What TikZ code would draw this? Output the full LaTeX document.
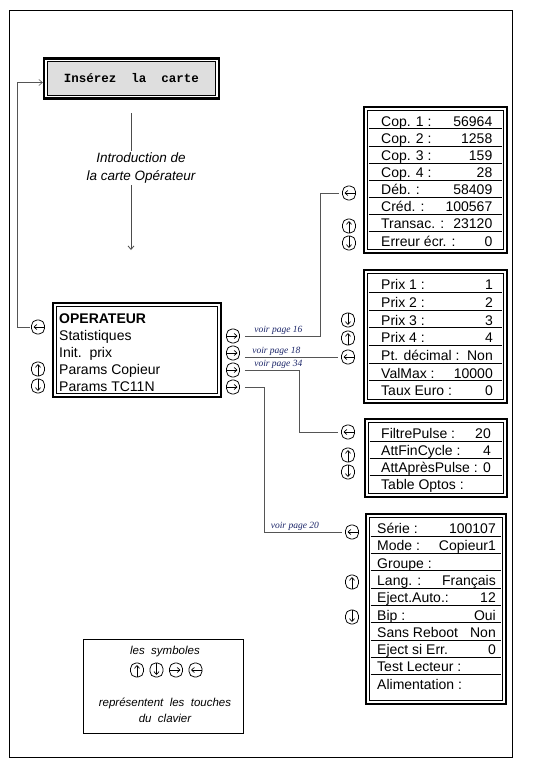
\documentclass[tikz,border=0pt]{standalone}
\usepackage{fontspec}
\setmainfont{Liberation Sans}
\newfontfamily\pagefont{Liberation Serif}
\newfontfamily\screenfont{Liberation Mono}
\usetikzlibrary{arrows.meta}
\definecolor{pageblue}{RGB}{28,38,105}
\definecolor{linkgray}{RGB}{85,85,85}

\tikzset{
  boxframe/.style={draw, line width=2.4pt, inner sep=0pt},
  innerline/.style={draw, line width=0.7pt},
  rowsep/.style={draw, line width=0.6pt},
  rowlabel/.style={anchor=base west, inner sep=0pt, font=\fontsize{14}{16}\selectfont},
  rowvalue/.style={anchor=base east, inner sep=0pt, font=\fontsize{14}{16}\selectfont},
  keybox/.style={draw, line width=0.75pt, rounded corners=5.5pt, minimum width=13pt, minimum height=14pt, inner sep=0pt},
  keyarrow/.style={line width=0.7pt, -{Straight Barb[length=2.8pt,width=5pt,line width=0.7pt]}},
  keyup/.style={keybox, path picture={\draw[keyarrow] (path picture bounding box.south) -- ([yshift=-2pt]path picture bounding box.north);}},
  keydown/.style={keybox, path picture={\draw[keyarrow] (path picture bounding box.north) -- ([yshift=2pt]path picture bounding box.south);}},
  keyright/.style={keybox, path picture={\draw[keyarrow] (path picture bounding box.west) -- ([xshift=-2pt]path picture bounding box.east);}},
  keyleft/.style={keybox, path picture={\draw[keyarrow] (path picture bounding box.east) -- ([xshift=2pt]path picture bounding box.west);}},
  link/.style={draw=linkgray, line width=0.6pt, shorten <=5pt, shorten >=3pt},
  pagelabel/.style={above, inner sep=1.5pt, text=pageblue, font=\pagefont\itshape\fontsize{9.5}{11}\selectfont},
  endtip/.style={-{Straight Barb[length=3.5pt,width=6pt]}},
  legendtext/.style={font=\itshape\fontsize{11.5}{16}\selectfont, inner sep=0pt}
}

\begin{document}
\begin{tikzpicture}[x=1pt, y=-1pt]
\useasboundingbox (0,0) rectangle (546,766);
% cadre de la page
\draw[line width=0.8pt] (9,10) rectangle (512,757);

% Insérez la carte
\node[boxframe, minimum width=175pt, minimum height=40pt] (insert) at (131.5,78.5) {};
\draw[innerline, fill=black!13] ([shift={(4.5pt,-4.5pt)}]insert.north west) rectangle ([shift={(-4.5pt,4.5pt)}]insert.south east);
\node[font=\screenfont\bfseries\fontsize{12.5}{14}\selectfont] (inserttext) at (insert.center) {Insérez\ \ la\ \ carte};

% Introduction de la carte
\coordinate (introtop) at (131,113);
\coordinate (introend) at (131,250);
\node[font=\itshape\fontsize{13.5}{18}\selectfont, align=center, inner sep=2pt] (intro) at (141,168) {Introduction de\\la carte Opérateur};
\draw[draw=black!70, line width=0.8pt] (introtop) -- (introtop |- intro.north);
\draw[draw=black!70, line width=0.8pt, endtip] (introtop |- intro.south) -- (introend);

% menu OPERATEUR
\node[boxframe, minimum width=167.6pt, minimum height=94pt] (opbox) at (137,350) {};
\draw[innerline] ([shift={(4.5pt,-4.5pt)}]opbox.north west) rectangle ([shift={(-4.5pt,4.5pt)}]opbox.south east);
\node[anchor=base west, inner sep=0pt, font=\bfseries\fontsize{14}{16}\selectfont] (optitle) at (59,323) {OPERATEUR};
\foreach \entry [count=\i] in {Statistiques, Init.\ \ prix, Params Copieur, Params TC11N}
  \node[anchor=base west, inner sep=0pt, font=\fontsize{14}{16}\selectfont] (op\i) at (59,323+17*\i) {\entry};

\node[keyleft] (opleft) at (38,327) {};
\node[keyup] (opup) at (38,369) {};
\node[keydown] (opdown) at (38,386) {};
\foreach \y [count=\i] in {336,353,370,387}
  \node[keyright] (opnext\i) at (233,\y) {};

% retour vers Insérez la carte
\coordinate (backx) at (17,0);
\draw[link, shorten <=1pt, shorten >=0pt, endtip] (opleft.west) -- (opleft.west -| backx) |- ([yshift=-4pt]insert.west);

% Statistiques
\node[boxframe, minimum width=142.6pt, minimum height=145.6pt] (cptbox) at (435.5,180) {};
\draw[innerline] ([shift={(4.5pt,-4.5pt)}]cptbox.north west) rectangle ([shift={(-4.5pt,4.5pt)}]cptbox.south east);
\foreach \i in {1,...,7}
  \draw[rowsep] (368.7,111.7+17.08*\i) -- (502.3,111.7+17.08*\i);
\foreach \lab/\val [count=\i] in {Cop. 1 :/56964, Cop. 2 :/1258, Cop. 3 :/159, Cop. 4 :/28, Déb. :/58409, Créd. :/100567, Transac. :/23120, Erreur écr. :/0}{
  \node[rowlabel] (cpt\i) at (381,109.4+17.08*\i) {\lab};
  \node[rowvalue] (cptv\i) at (492.5,109.4+17.08*\i) {\val};
}
\node[keyleft] (cptleft) at (349,193) {};
\node[keyup] (cptup) at (349,226) {};
\node[keydown] (cptdown) at (349,243) {};

% Init. prix
\node[boxframe, minimum width=142.6pt, minimum height=132.6pt] (prixbox) at (435.5,336.5) {};
\draw[innerline] ([shift={(4.5pt,-4.5pt)}]prixbox.north west) rectangle ([shift={(-4.5pt,4.5pt)}]prixbox.south east);
\foreach \i in {1,...,6}
  \draw[rowsep] (368.7,274.7+17.66*\i) -- (502.3,274.7+17.66*\i);
\foreach \lab/\val [count=\i] in {Prix 1 :/1, Prix 2 :/2, Prix 3 :/3, Prix 4 :/4, Pt. décimal :/Non, ValMax :/10000, Taux Euro :/0}{
  \node[rowlabel] (prix\i) at (381,272.04+17.66*\i) {\lab};
  \node[rowvalue] (prixv\i) at (493,272.04+17.66*\i) {\val};
}
\node[keydown] (prixdown) at (348,320) {};
\node[keyup] (prixup) at (348,338) {};
\node[keyleft] (prixleft) at (348,357) {};

% Params Copieur
\node[boxframe, minimum width=141.6pt, minimum height=77.6pt] (pulsebox) at (436,458) {};
\draw[innerline] ([shift={(4.5pt,-4.5pt)}]pulsebox.north west) rectangle ([shift={(-4.5pt,4.5pt)}]pulsebox.south east);
\foreach \i in {1,...,3}
  \draw[rowsep] (369.7,423.7+17.15*\i) -- (502.3,423.7+17.15*\i);
\foreach \lab/\val [count=\i] in {FiltrePulse :/20, AttFinCycle :/4, AttAprèsPulse :/0, Table Optos :/{}}{
  \node[rowlabel] (pulse\i) at (381,421.35+17.15*\i) {\lab};
  \node[rowvalue] (pulsev\i) at (491,421.35+17.15*\i) {\val};
}
\node[keyleft] (pulseleft) at (348,432) {};
\node[keyup] (pulseup) at (348,455) {};
\node[keydown] (pulsedown) at (348,472) {};

% Params TC11N
\node[boxframe, minimum width=139.6pt, minimum height=189.6pt] (copbox) at (436,609) {};
\draw[innerline] ([shift={(4.5pt,-4.5pt)}]copbox.north west) rectangle ([shift={(-4.5pt,4.5pt)}]copbox.south east);
\foreach \i in {1,...,9}
  \draw[rowsep] (370.7,518.7+17.3*\i) -- (501.3,518.7+17.3*\i);
\foreach \lab/\val [count=\i] in {Série :/100107, Mode :/Copieur1, Groupe :/{}, Lang. :/Français, Eject.Auto.:/12, Bip :/Oui, Sans Reboot/Non, Eject si Err./0, Test Lecteur :/{}, Alimentation :/{}}{
  \node[rowlabel] (cop\i) at (377,516.2+17.3*\i) {\lab};
  \node[rowvalue] (copv\i) at (496,516.2+17.3*\i) {\val};
}
\node[keyleft] (copleft) at (352,532) {};
\node[keyup] (copup) at (352,582) {};
\node[keydown] (copdown) at (352,617) {};

% liaisons vers les sous-menus
\coordinate (cptx) at (320,0);
\coordinate (pulsex) at (299,0);
\coordinate (copx) at (264,0);
\draw[link] (opnext1.east) -- node[pagelabel, pos=0.48] {voir page 16} (opnext1.east -| cptx) |- (cptleft.west);
\draw[link] (prixleft.west -| opnext2.east) -- node[pagelabel, pos=0.36] {voir page 18} (prixleft.west);
\draw[link] (opnext3.east) -- node[pagelabel, pos=0.65] {voir page 34} (opnext3.east -| pulsex) |- (pulseleft.west);
\draw[link] (opnext4.east) -- (opnext4.east -| copx) |- node[pagelabel, pos=0.69] {voir page 20} (copleft.west);

% légende
\node[draw, line width=0.8pt, minimum width=160pt, minimum height=94pt] (legend) at (163,686) {};
\node[legendtext] (legtop) at (165,652) {les\ \ symboles};
\node[keyup] (legup) at (137,670) {};
\node[keydown] (legdown) at (156.5,670) {};
\node[keyright] (legright) at (176,670) {};
\node[keyleft] (legleft) at (195.5,670) {};
\node[legendtext, align=center] (legbottom) at (165,710) {représentent\ \ les\ \ touches\\du\ \ clavier};
\end{tikzpicture}
\end{document}
